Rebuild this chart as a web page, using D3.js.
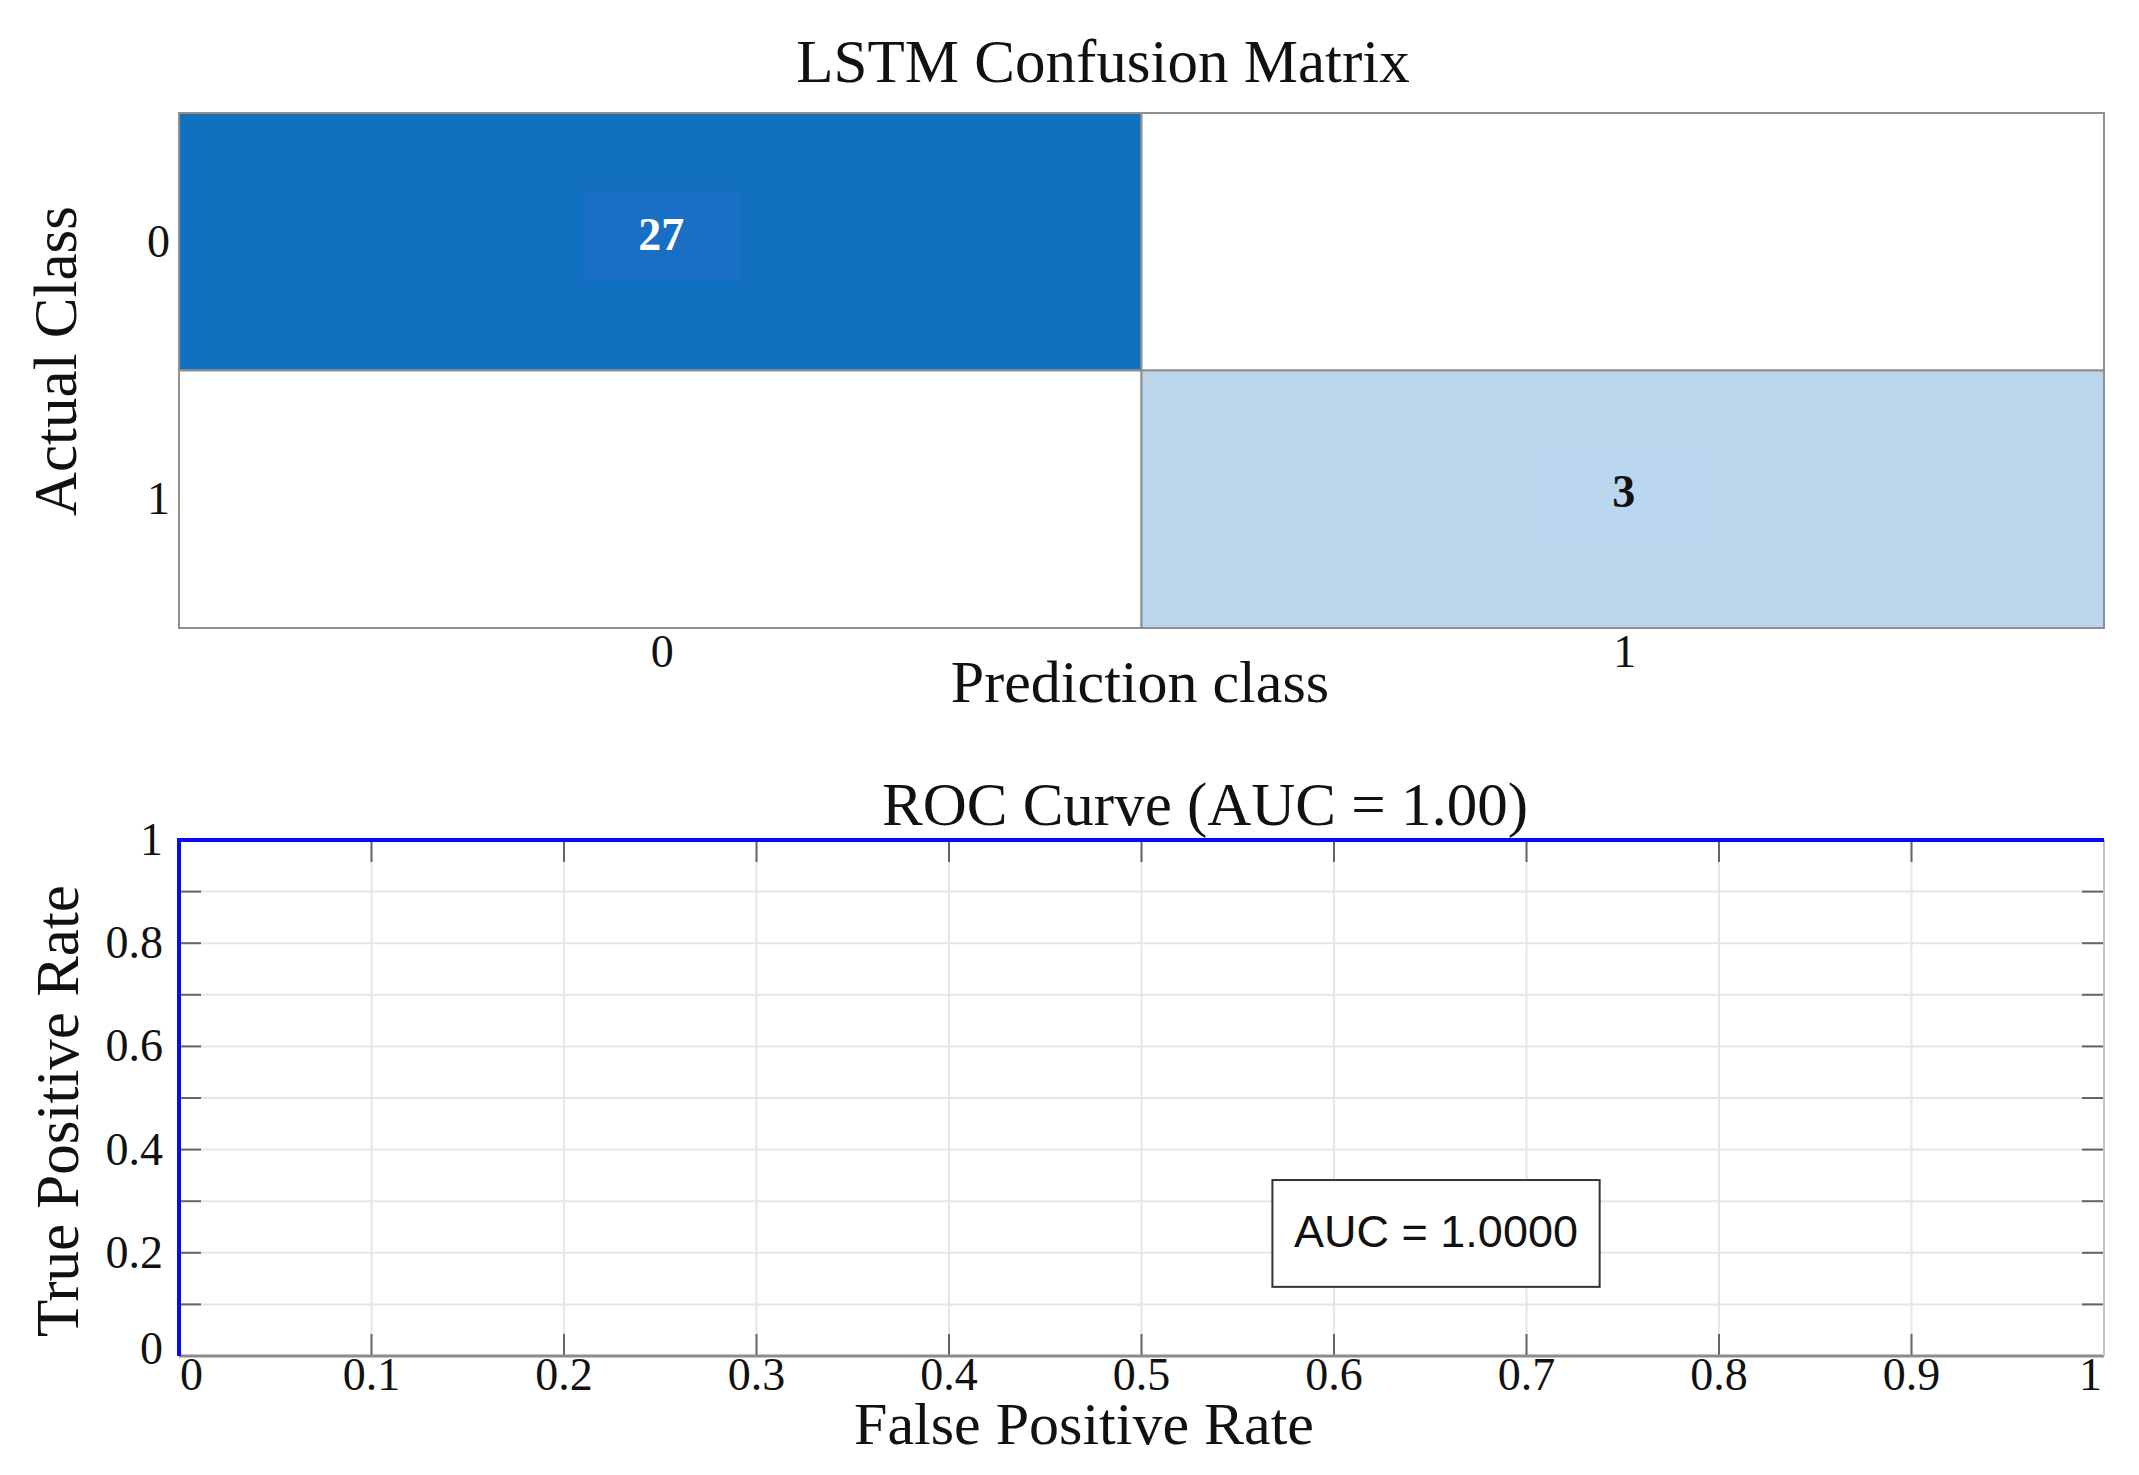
<!DOCTYPE html>
<html>
<head>
<meta charset="utf-8">
<script src="https://cdn.jsdelivr.net/npm/d3@7"></script>
<style>
  body { margin: 0; background: #fff; }
  svg { display: block; }
  text { font-family: "Liberation Serif", "Times New Roman", serif; fill: #111; }
</style>
</head>
<body>
<svg id="chart"></svg>
<script>
// ── data ─────────────────────────────────────────────
const classes = ['0', '1'];
const confusion = [[27, 0], [0, 3]];           // rows = actual, cols = predicted
const rocFpr = [0, 0, 1];
const rocTpr = [0, 1, 1];
const aucValue = 1.0;
const rocTicks = [0, 0.1, 0.2, 0.3, 0.4, 0.5, 0.6, 0.7, 0.8, 0.9, 1];
const rocXLabels = ['0', '0.1', '0.2', '0.3', '0.4', '0.5', '0.6', '0.7', '0.8', '0.9', '1'];
const rocYTicks = [0, 0.2, 0.4, 0.6, 0.8, 1];
const rocYLabels = ['0', '0.2', '0.4', '0.6', '0.8', '1'];

const W = 2139, H = 1475;
const svg = d3.select('#chart').attr('width', W).attr('height', H);
svg.append('rect').attr('width', W).attr('height', H).attr('fill', '#fff');

// ══════════════════════════════════════════════════════
// CONFUSION MATRIX
// ══════════════════════════════════════════════════════
const cm = { left: 179, right: 2104, top: 113, bottom: 628 };
const cx = d3.scaleBand().domain(classes).range([cm.left, cm.right]);
const cy = d3.scaleBand().domain(classes).range([cm.top, cm.bottom]);
const cmColor = d3.scaleLinear().domain([0, 3, 27]).range(['#ffffff', '#bad5ec', '#1271bf']);
const boxColor = d3.scaleLinear().domain([0, 3, 27]).range(['#ffffff', '#bbd7f0', '#196fc6']);

const cells = [];
confusion.forEach((row, i) => row.forEach((v, j) => cells.push({ actual: classes[i], pred: classes[j], v })));

const gm = svg.append('g');
gm.selectAll('rect.cell').data(cells).join('rect')
  .attr('class', 'cell')
  .attr('x', d => cx(d.pred)).attr('y', d => cy(d.actual))
  .attr('width', cx.bandwidth()).attr('height', cy.bandwidth())
  .attr('fill', d => cmColor(d.v))
  .attr('stroke', '#8f8f8f').attr('stroke-width', 2);

// small label background patch, as in the source figure
const nonZero = cells.filter(d => d.v > 0);
gm.selectAll('rect.tbox').data(nonZero).join('rect')
  .attr('class', 'tbox')
  .attr('x', d => cx(d.pred) + cx.bandwidth() / 2 - 79)
  .attr('y', d => cy(d.actual) + cy.bandwidth() / 2 - 52)
  .attr('width', 158).attr('height', 93)
  .attr('fill', d => boxColor(d.v));

gm.selectAll('text.val').data(nonZero).join('text')
  .attr('class', 'val')
  .attr('x', d => cx(d.pred) + cx.bandwidth() / 2 + 1)
  .attr('y', d => cy(d.actual) + cy.bandwidth() / 2 + 8)
  .attr('text-anchor', 'middle')
  .attr('font-size', 46).attr('font-weight', 'bold')
  .style('fill', d => d.v > 10 ? '#fff' : '#111')
  .text(d => d.v);

// tick labels
gm.selectAll('text.ytick').data(classes).join('text')
  .attr('x', 170).attr('y', d => cy(d) + cy.bandwidth() / 2 + 15)
  .attr('text-anchor', 'end').attr('font-size', 46)
  .text(d => d);
gm.selectAll('text.xtick').data(classes).join('text')
  .attr('x', d => cx(d) + cx.bandwidth() / 2 + 2).attr('y', 667)
  .attr('text-anchor', 'middle').attr('font-size', 46)
  .text(d => d);

svg.append('text').attr('x', 1103).attr('y', 82).attr('text-anchor', 'middle')
  .attr('font-size', 61).text('LSTM Confusion Matrix');
svg.append('text').attr('x', 1140).attr('y', 702).attr('text-anchor', 'middle')
  .attr('font-size', 60).text('Prediction class');
svg.append('text').attr('transform', 'translate(76,361) rotate(-90)').attr('text-anchor', 'middle')
  .attr('font-size', 61).text('Actual Class');

// ══════════════════════════════════════════════════════
// ROC CURVE
// ══════════════════════════════════════════════════════
const rc = { left: 179, right: 2104, top: 840, bottom: 1356 };
const x = d3.scaleLinear().domain([0, 1]).range([rc.left, rc.right]);
const y = d3.scaleLinear().domain([0, 1]).range([rc.bottom, rc.top]);
const gr = svg.append('g');

// grid
gr.selectAll('line.vg').data(rocTicks).join('line')
  .attr('x1', d => x(d)).attr('x2', d => x(d)).attr('y1', rc.top).attr('y2', rc.bottom)
  .attr('stroke', '#e6e6e6').attr('stroke-width', 2);
gr.selectAll('line.hg').data(rocTicks).join('line')
  .attr('y1', d => y(d)).attr('y2', d => y(d)).attr('x1', rc.left).attr('x2', rc.right)
  .attr('stroke', '#e6e6e6').attr('stroke-width', 2);

// inward ticks on all four sides
const tickLen = 22;
const tickCol = '#666';
gr.selectAll('line.tb').data(rocTicks).join('line')
  .attr('x1', d => x(d)).attr('x2', d => x(d)).attr('y1', rc.bottom).attr('y2', rc.bottom - tickLen)
  .attr('stroke', tickCol).attr('stroke-width', 2);
gr.selectAll('line.tt').data(rocTicks).join('line')
  .attr('x1', d => x(d)).attr('x2', d => x(d)).attr('y1', rc.top).attr('y2', rc.top + tickLen)
  .attr('stroke', tickCol).attr('stroke-width', 2);
gr.selectAll('line.tl').data(rocTicks).join('line')
  .attr('y1', d => y(d)).attr('y2', d => y(d)).attr('x1', rc.left).attr('x2', rc.left + tickLen)
  .attr('stroke', tickCol).attr('stroke-width', 2);
gr.selectAll('line.tr').data(rocTicks).join('line')
  .attr('y1', d => y(d)).attr('y2', d => y(d)).attr('x1', rc.right).attr('x2', rc.right - tickLen)
  .attr('stroke', tickCol).attr('stroke-width', 2);

// axis box
gr.append('line').attr('x1', rc.left).attr('x2', rc.right).attr('y1', rc.bottom).attr('y2', rc.bottom)
  .attr('stroke', '#8c8c8c').attr('stroke-width', 3);
gr.append('line').attr('x1', rc.right).attr('x2', rc.right).attr('y1', rc.top).attr('y2', rc.bottom)
  .attr('stroke', '#c4c4c4').attr('stroke-width', 2);

// tick labels
gr.selectAll('text.xl').data(rocTicks).join('text')
  .attr('x', (d, i) => i === 0 ? x(d) + 1 : (i === rocTicks.length - 1 ? x(d) - 2 : x(d)))
  .attr('y', 1390)
  .attr('text-anchor', (d, i) => i === 0 ? 'start' : (i === rocTicks.length - 1 ? 'end' : 'middle'))
  .attr('font-size', 46)
  .text((d, i) => rocXLabels[i]);
gr.selectAll('text.yl').data(rocYTicks).join('text')
  .attr('x', 163)
  .attr('y', (d, i) => y(d) + (i === 0 ? 8 : 15))
  .attr('text-anchor', 'end').attr('font-size', 46)
  .text((d, i) => rocYLabels[i]);

// curve
const line = d3.line().x(d => x(d[0])).y(d => y(d[1]));
gr.append('path').datum(rocFpr.map((f, i) => [f, rocTpr[i]]))
  .attr('d', line).attr('fill', 'none')
  .attr('stroke', '#0a0af0').attr('stroke-width', 4);

// AUC annotation box
const bx0 = x(0.568), bx1 = x(0.738), by0 = y(0.341), by1 = y(0.134);
gr.append('rect').attr('x', bx0).attr('y', by0).attr('width', bx1 - bx0).attr('height', by1 - by0)
  .attr('fill', '#fff').attr('stroke', '#333').attr('stroke-width', 2);
gr.append('text').attr('x', (bx0 + bx1) / 2).attr('y', by0 + 67).attr('text-anchor', 'middle')
  .attr('font-size', 45).style('font-family', '"Liberation Sans", Arial, sans-serif')
  .text(`AUC = ${aucValue.toFixed(4)}`);

svg.append('text').attr('x', 1205).attr('y', 825).attr('text-anchor', 'middle')
  .attr('font-size', 61).text(`ROC Curve (AUC = ${aucValue.toFixed(2)})`);
svg.append('text').attr('x', 1084).attr('y', 1444).attr('text-anchor', 'middle')
  .attr('font-size', 60).text('False Positive Rate');
svg.append('text').attr('transform', 'translate(78,1111) rotate(-90)').attr('text-anchor', 'middle')
  .attr('font-size', 61).text('True Positive Rate');
</script>
</body>
</html>
